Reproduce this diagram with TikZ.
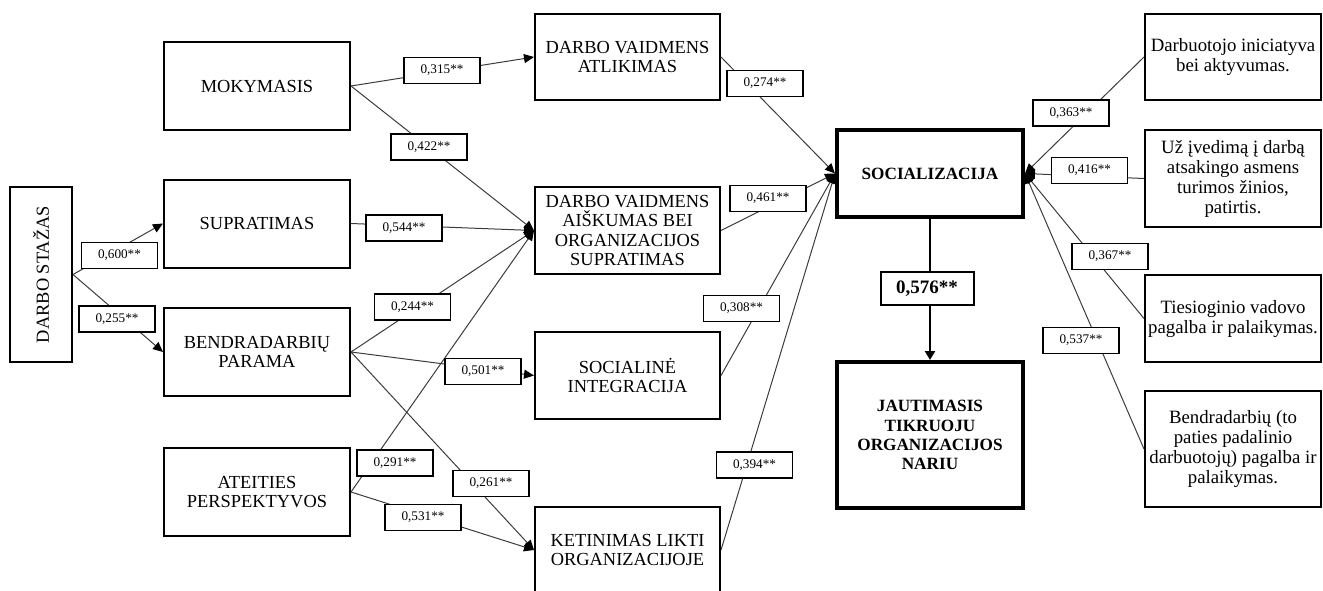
\documentclass[tikz,border=0pt]{standalone}
\usepackage{fontspec}
\setmainfont{Liberation Serif}
\usepackage{graphicx}
\usetikzlibrary{arrows.meta}
\definecolor{clLine}{HTML}{3C3C3C}

\begin{document}
\begin{tikzpicture}[x=0.5pt,y=-0.5pt,
  box/.style={draw,line width=1pt,align=center,inner sep=1pt,minimum width=93pt,minimum height=44pt,font=\fontsize{9.2}{9.6}\selectfont},
  rbox/.style={box,minimum width=88pt,font=\fontsize{9.4}{10}\selectfont},
  bbox/.style={box,line width=2pt,font=\fontsize{8.6}{9.6}\selectfont\bfseries},
  lbl/.style={draw,fill=white,line width=0.8pt,minimum width=38pt,minimum height=13pt,inner sep=0pt,font=\fontsize{6.6}{7}\selectfont},
  link/.style={draw=clLine,line width=0.5pt,-{Triangle[length=5pt,width=4.5pt,color=black]}}]
  \useasboundingbox (0,0) rectangle (1323,590);
  % boxes
  \node[box,minimum width=31pt,minimum height=87.5pt] (stazas) at (41,274.5) {\rotatebox{90}{DARBO STAŽAS}};
  \node[box] (mok) at (257,86) {MOKYMASIS};
  \node[box] (sup) at (257,223.5) {SUPRATIMAS};
  \node[box] (bend) at (257,352) {BENDRADARBIŲ\\PARAMA};
  \node[box] (ateit) at (257,492) {ATEITIES\\PERSPEKTYVOS};
  \node[box,minimum width=92.5pt,minimum height=43pt] (atlik) at (627.5,57) {DARBO VAIDMENS\\ATLIKIMAS};
  \node[box,minimum width=92.5pt,minimum height=43.5pt] (aisk) at (627.5,230.5) {DARBO VAIDMENS\\AIŠKUMAS BEI\\ORGANIZACIJOS\\SUPRATIMAS};
  \node[box,minimum width=92.5pt,minimum height=43.5pt] (socint) at (627.5,375.5) {SOCIALINĖ\\INTEGRACIJA};
  \node[box,minimum width=92.5pt,minimum height=43pt] (ketin) at (627.5,550) {KETINIMAS LIKTI\\ORGANIZACIJOJE};
  \node[bbox,minimum height=43.5pt] (soc) at (930,173.5) {SOCIALIZACIJA};
  \node[bbox,minimum height=73pt] (jaut) at (930,435) {JAUTIMASIS\\TIKRUOJU\\ORGANIZACIJOS\\NARIU};
  \node[rbox,minimum height=43pt] (inic) at (1233,57) {Darbuotojo iniciatyva\\bei aktyvumas.};
  \node[rbox,minimum height=48.5pt] (ived) at (1233,178.5) {Už įvedimą į darbą\\atsakingo asmens\\turimos žinios,\\patirtis.};
  \node[rbox,minimum height=43.5pt] (vad) at (1233,318.5) {Tiesioginio vadovo\\pagalba ir palaikymas.};
  \node[rbox,minimum height=58pt] (koleg) at (1233,449) {Bendradarbių (to\\paties padalinio\\darbuotojų) pagalba ir\\palaikymas.};
  % connectors
  \foreach \s/\t in {stazas/sup,stazas/bend,mok/atlik,mok/aisk,sup/aisk,bend/aisk,bend/socint,bend/ketin,
      ateit/aisk,ateit/ketin,atlik/soc,aisk/soc,socint/soc,ketin/soc}
    \draw[link] (\s.east) -- (\t.west);
  \foreach \s in {inic,ived,vad,koleg}
    \draw[link] (\s.west) -- (soc.east);
  \draw[line width=1.2pt,-{Triangle[length=4.5pt,width=5pt]}] (soc) -- (jaut);
  % coefficients
  \node[lbl] (l600) at (119.5,255.5) {0,600**};
  \node[lbl] (l255) at (117,319) {0,255**};
  \node[lbl] (l315) at (442,70.5) {0,315**};
  \node[lbl] (l422) at (429,147) {0,422**};
  \node[lbl] (l544) at (404,228) {0,544**};
  \node[lbl] (l244) at (412.5,307) {0,244**};
  \node[lbl] (l501) at (483,371.5) {0,501**};
  \node[lbl] (l291) at (395,463) {0,291**};
  \node[lbl] (l261) at (491,483.5) {0,261**};
  \node[lbl] (l531) at (423,517.5) {0,531**};
  \node[lbl] (l274) at (765,83.5) {0,274**};
  \node[lbl] (l461) at (768,198.5) {0,461**};
  \node[lbl] (l308) at (741.5,308.5) {0,308**};
  \node[lbl] (l394) at (754.5,465) {0,394**};
  \node[lbl] (l363) at (1071,113) {0,363**};
  \node[lbl] (l416) at (1089.5,170.5) {0,416**};
  \node[lbl] (l367) at (1110,256.5) {0,367**};
  \node[lbl] (l537) at (1081,340.5) {0,537**};
  \node[lbl,line width=1pt,minimum width=46.5pt,minimum height=16.5pt,font=\fontsize{9.5}{10}\selectfont\bfseries] (l576) at (927,288.5) {0,576**};
\end{tikzpicture}
\end{document}
